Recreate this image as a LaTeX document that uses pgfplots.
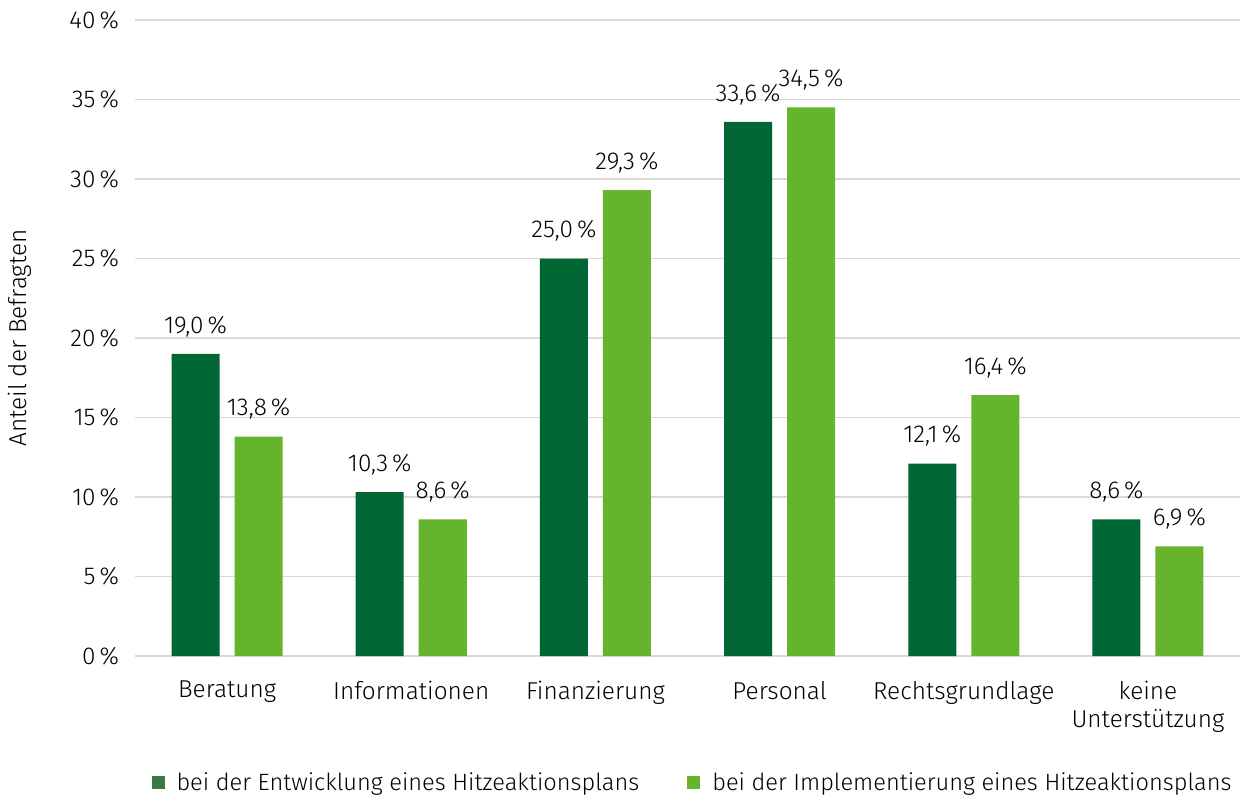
\documentclass[border=0pt]{standalone}
\usepackage{fontspec}
\setmainfont{Fira Sans}[UprightFont=* Light]
\usepackage{pgfplots}
\pgfplotsset{compat=1.18}
\definecolor{dkgreen}{RGB}{0,102,51}
\definecolor{ltgreen}{RGB}{102,179,46}
\definecolor{legdark}{RGB}{58,120,68}
\definecolor{gridgray}{RGB}{217,217,217}
\begin{document}
\begin{tikzpicture}
\begin{axis}[
  scale only axis,
  width=552.5pt, height=318pt,
  ybar, bar width=24pt,
  ymin=0, ymax=40, ytick={0,5,...,40},
  yticklabel={\pgfmathprintnumber{\tick}\,\%},
  /pgf/number format/assume math mode=true,
  xmin=-0.5, xmax=5.5,
  xtick={0,1,2,3,4,5},
  xticklabels={Beratung,Informationen,Finanzierung,Personal,Rechtsgrundlage,{keine\\Unterstützung}},
  xticklabel style={align=center, yshift=-9pt},
  x tick label style={font=\fontsize{12.2}{14}\selectfont},
  y tick label style={font=\fontsize{12.2}{14}\selectfont, xshift=-4.5pt},
  major tick length=0pt,
  axis line style={draw=none},
  ymajorgrids, grid style={gridgray, line width=0.6pt},
  ylabel={Anteil der Befragten},
  every axis y label/.style={at={(axis description cs:0,0.5)}, xshift=-57.5pt, rotate=90, anchor=center, font=\fontsize{12.2}{14}\selectfont},
  nodes near coords={\pgfmathprintnumber[fixed, fixed zerofill, precision=1, use comma]{\pgfplotspointmeta}\,\%},
  nodes near coords style={font=\fontsize{12.2}{14}\selectfont, black, yshift=5pt},
  legend style={at={(0.5,0)}, anchor=center, xshift=3pt, yshift=-63.5pt, draw=none, legend columns=2,
    font=\fontsize{11.8}{14}\selectfont, /tikz/every even column/.append style={column sep=22pt}},
  legend image code/.code={\fill[#1] (0pt,-3pt) rectangle (6.5pt,3.5pt); \path (10.5pt,0pt);},
]
\addlegendimage{fill=legdark, draw=none}
\addlegendentry{bei der Entwicklung eines Hitzeaktionsplans}
\addlegendimage{fill=ltgreen, draw=none}
\addlegendentry{bei der Implementierung eines Hitzeaktionsplans}
\addplot[fill=dkgreen, draw=none, bar shift=-15.75pt, forget plot] coordinates {(0,19.0) (1,10.3) (2,25.0) (3,33.6) (4,12.1) (5,8.6)};
\addplot[fill=ltgreen, draw=none, bar shift=15.75pt, forget plot] coordinates {(0,13.8) (1,8.6) (2,29.3) (3,34.5) (4,16.4) (5,6.9)};
\end{axis}
\pgfresetboundingbox
\useasboundingbox ([xshift=-67.5pt, yshift=-71.5pt]current axis.south west) rectangle ([xshift=0.5pt, yshift=10pt]current axis.north east);
\end{tikzpicture}
\end{document}
